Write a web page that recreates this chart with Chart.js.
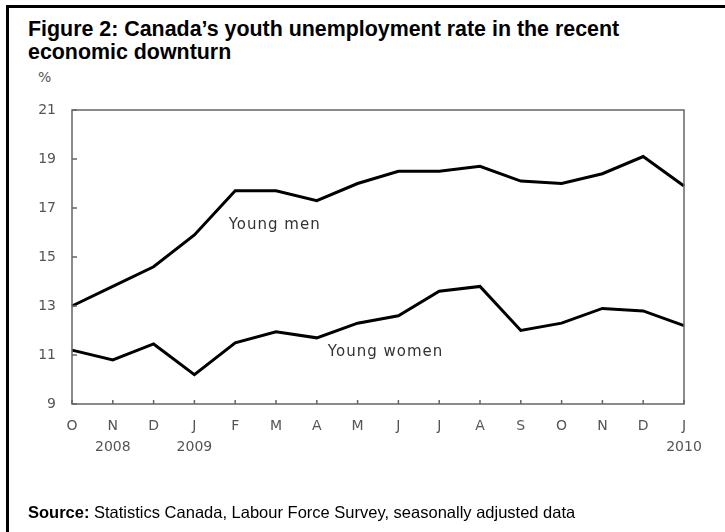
<!DOCTYPE html>
<html>
<head>
<meta charset="utf-8">
<script src="https://cdn.jsdelivr.net/npm/chart.js@4.4.1/dist/chart.umd.min.js"></script>
<style>
  html,body{margin:0;padding:0;background:#fff;}
  #wrap{position:relative;width:725px;height:532px;overflow:hidden;}
  #frame{position:absolute;left:6px;top:5px;width:800px;height:600px;border-top:3px solid #000;border-left:3px solid #000;}
  #title{position:absolute;left:28px;top:18px;font:bold 21.4px "Liberation Sans",Arial,sans-serif;line-height:23px;color:#000;}
  #pct{position:absolute;left:38px;top:69px;font:14px "DejaVu Sans",sans-serif;color:#555;}
  #source{position:absolute;left:28px;top:503px;font:16.5px "Liberation Sans",Arial,sans-serif;line-height:18px;color:#000;}
  canvas{position:absolute;left:0;top:0;}
</style>
</head>
<body>
<div id="wrap">
  <div id="frame"></div>
  <div id="title">Figure 2: Canada’s youth unemployment rate in the recent<br>economic downturn</div>
  <div id="pct">%</div>
  <canvas id="c" width="725" height="532"></canvas>
  <div id="source"><b>Source:</b> Statistics Canada, Labour Force Survey, seasonally adjusted data</div>
</div>
<script>
(function(){
  // Oct 2008 .. Jan 2010
  const months = ['O','N','D','J','F','M','A','M','J','J','A','S','O','N','D','J'];
  const years  = ['','2008','','2009','','','','','','','','','','','','2010'];
  const youngMen   = [13.0,13.8,14.6,15.9,17.7,17.7,17.3,18.0,18.5,18.5,18.7,18.1,18.0,18.4,19.1,17.9];
  const youngWomen = [11.2,10.8,11.45,10.2,11.5,11.95,11.7,12.3,12.6,13.6,13.8,12.0,12.3,12.9,12.8,12.2];
  const yTicks = [9,11,13,15,17,19,21];
  const seriesNames = ['Young men','Young women'];
  // where the inline labels sit (index on x, value on y)
  const labelSpots = [[3.84,16.3],[6.27,11.12]];

  const axisFont = { family:'DejaVu Sans, sans-serif', size:14, lineHeight:1.5 };
  const grey = '#555';

  const labels = months.map((m,i)=> years[i] ? [m, years[i]] : m);

  // frame box + inward tick marks + series names
  const boxPlugin = {
    id:'box',
    afterDatasetsDraw(chart){
      const {ctx, chartArea:a, scales} = chart;
      ctx.save();
      ctx.strokeStyle = '#666';
      ctx.lineWidth = 1.5;
      ctx.strokeRect(a.left, a.top, a.right-a.left, a.bottom-a.top);
      ctx.beginPath();
      scales.x.ticks.forEach((t,i)=>{
        const x = scales.x.getPixelForTick(i);
        ctx.moveTo(x, a.bottom); ctx.lineTo(x, a.bottom-4);
      });
      scales.y.ticks.forEach((t,i)=>{
        const y = scales.y.getPixelForTick(i);
        ctx.moveTo(a.left, y); ctx.lineTo(a.left+5, y);
      });
      ctx.stroke();
      ctx.fillStyle = '#333';
      ctx.font = '15px "DejaVu Sans", sans-serif';
      try{ ctx.letterSpacing = '1px'; }catch(e){}
      ctx.textBaseline = 'middle';
      seriesNames.forEach((n,i)=>{
        const x = scales.x.getPixelForValue(labelSpots[i][0]);
        const y = scales.y.getPixelForValue(labelSpots[i][1]);
        ctx.fillText(n, x, y);
      });
      ctx.restore();
    }
  };

  new Chart(document.getElementById('c').getContext('2d'), {
    type:'line',
    data:{
      labels,
      datasets:[
        { label:seriesNames[0], data:youngMen, borderColor:'#000', borderWidth:3, pointRadius:0, tension:0, fill:false },
        { label:seriesNames[1], data:youngWomen, borderColor:'#000', borderWidth:3, pointRadius:0, tension:0, fill:false }
      ]
    },
    options:{
      responsive:false,
      animation:false,
      layout:{ padding:{ top:110, right:41, left:0, bottom:0 } },
      plugins:{ legend:{display:false}, tooltip:{enabled:false} },
      scales:{
        x:{
          offset:false,
          grid:{ display:false, drawTicks:false },
          border:{ display:false },
          ticks:{ color:grey, font:axisFont, padding:12, maxRotation:0, autoSkip:false },
          afterFit(s){ s.height = 128; }
        },
        y:{
          min:9, max:21,
          afterBuildTicks(s){ s.ticks = yTicks.map(v=>({value:v})); },
          grid:{ display:false, drawTicks:false },
          border:{ display:false },
          ticks:{ color:grey, font:{ family:'DejaVu Sans, sans-serif', size:14 }, padding:16 },
          afterFit(s){ s.width = 72; }
        }
      }
    },
    plugins:[boxPlugin]
  });
})();
</script>
</body>
</html>
